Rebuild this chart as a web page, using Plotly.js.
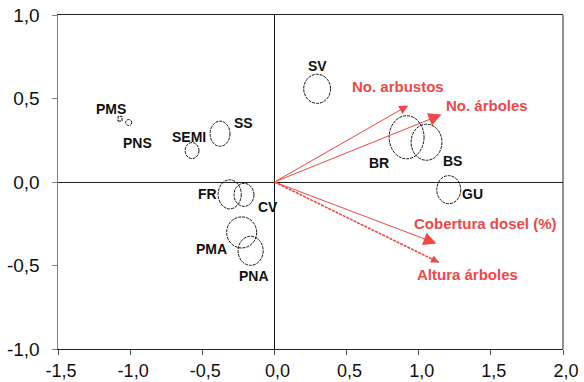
<!DOCTYPE html>
<html>
<head>
<meta charset="utf-8">
<script src="https://cdn.plot.ly/plotly-3.0.1.min.js"></script>
<style>html,body{margin:0;padding:0;background:#fff;}#chart{width:584px;height:382px;}</style>
</head>
<body>
<div id="chart"></div>
<script>
// ---- data ----
const sites = ['PMS','PNS','SEMI','SS','FR','CV','PMA','PNA','SV','BR','BS','GU'];
const siteX = [-1.070,-1.010,-0.571,-0.377,-0.310,-0.211,-0.227,-0.165,0.296,0.916,1.054,1.208];
const siteY = [0.379,0.356,0.188,0.289,-0.074,-0.077,-0.302,-0.412,0.558,0.268,0.238,-0.046];
const siteErrX = [0.014,0.021,0.048,0.069,0.080,0.069,0.104,0.087,0.093,0.121,0.107,0.083];
const siteErrY = [0.014,0.018,0.048,0.075,0.087,0.069,0.093,0.087,0.087,0.129,0.108,0.084];
const variables = ['No. arbustos','No. árboles','Cobertura dosel (%)','Altura árboles'];
const varX = [0.927,1.158,1.123,1.141];
const varY = [0.458,0.404,-0.368,-0.482];
const xTickVals = [-1.5,-1.0,-0.5,0.0,0.5,1.0,1.5,2.0];
const xTickText = ['-1,5','-1,0','-0,5','0,0','0,5','1,0','1,5','2,0'];
const yTickVals = [-1.0,-0.5,0.0,0.5,1.0];
const yTickText = ['-1,0','-0,5','0,0','0,5','1,0'];

// ---- styling / label placement (pixels) ----
const siteLabelShift = {
  PMS:[-9,10], PNS:[9,-20], SEMI:[-3,14], SS:[23,11], FR:[-22,0], CV:[24,-12],
  PMA:[-30,-17], PNA:[3,-25], SV:[0,23], BR:[-28,-26], BS:[26,-19], GU:[24,-4]
};
const varLabelShift = [[-10,19],[45,9],[49,20],[28,-12]];
const varHead = [{h:2,s:1.8},{h:2,s:2.6},{h:2,s:2.6},{h:2,s:1.6}];
const RED = '#EE4848';
const FONT = 'Liberation Sans, Arial, sans-serif';

const shapes = [];
sites.forEach((s,i)=>{
  shapes.push({
    type: i===0 ? 'rect' : 'circle', xref:'x', yref:'y',
    x0: siteX[i]-siteErrX[i], x1: siteX[i]+siteErrX[i],
    y0: siteY[i]-siteErrY[i], y1: siteY[i]+siteErrY[i],
    line:{color:'#111', width:1, dash:'3px,1px'}, fillcolor:'rgba(0,0,0,0)'
  });
});
// right frame line
shapes.push({type:'line', xref:'paper', yref:'paper', x0:1, x1:1, y0:0, y1:1, line:{color:'#222', width:1}});

const annotations = [];
sites.forEach((s,i)=>{
  annotations.push({
    x: siteX[i], y: siteY[i], xref:'x', yref:'y', text: s, showarrow:false,
    xshift: siteLabelShift[s][0], yshift: siteLabelShift[s][1],
    font:{family:FONT, size:14, color:'#111', weight:'bold'}
  });
});
const traces = [];
variables.forEach((v,i)=>{
  const dotted = (i===3);
  if (dotted) {
    traces.push({x:[0,varX[i]], y:[0,varY[i]], mode:'lines', type:'scatter',
      line:{color:RED, width:1.6, dash:'3px,1px'}, hoverinfo:'skip', showlegend:false});
  }
  annotations.push({
    x: varX[i], y: varY[i], xref:'x', yref:'y', axref:'x', ayref:'y',
    ax: dotted ? varX[i]*0.93 : 0, ay: dotted ? varY[i]*0.93 : 0,
    text:'', showarrow:true, arrowhead: varHead[i].h, arrowsize: varHead[i].s,
    arrowwidth: 1, arrowcolor: RED
  });
  annotations.push({
    x: varX[i], y: varY[i], xref:'x', yref:'y', text: v, showarrow:false,
    xshift: varLabelShift[i][0], yshift: varLabelShift[i][1],
    font:{family:FONT, size:15, color:RED, weight:'bold'}
  });
});
traces.push({x: siteX, y: siteY, text: sites, mode:'markers', type:'scatter',
  marker:{size:1, opacity:0}, hoverinfo:'text', showlegend:false});

const layout = {
  width:584, height:382,
  margin:{l:58, r:21, t:15, b:33},
  paper_bgcolor:'#fff', plot_bgcolor:'#fff',
  showlegend:false,
  font:{family:FONT, color:'#111'},
  xaxis:{range:[-1.5,2.0], tickvals:xTickVals, ticktext:xTickText, showgrid:false,
    zeroline:true, zerolinecolor:'#111', zerolinewidth:1,
    showline:true, linecolor:'#222', linewidth:1, mirror:true,
    ticks:'outside', ticklen:5, tickcolor:'#555', tickwidth:1,
    tickfont:{family:FONT, size:18, color:'#111'}, ticklabelstandoff:0, ticklabelshift:3},
  yaxis:{range:[-1.0,1.0], tickvals:yTickVals, ticktext:yTickText, showgrid:false,
    zeroline:true, zerolinecolor:'#222', zerolinewidth:1,
    showline:true, linecolor:'#808080', linewidth:1.5, mirror:false,
    ticks:'outside', ticklen:5, tickcolor:'#808080', tickwidth:1,
    tickfont:{family:FONT, size:19, color:'#111'}, ticklabelstandoff:8},
  shapes: shapes,
  annotations: annotations
};
Plotly.newPlot('chart', traces, layout, {displayModeBar:false, staticPlot:true});
</script>
</body>
</html>
